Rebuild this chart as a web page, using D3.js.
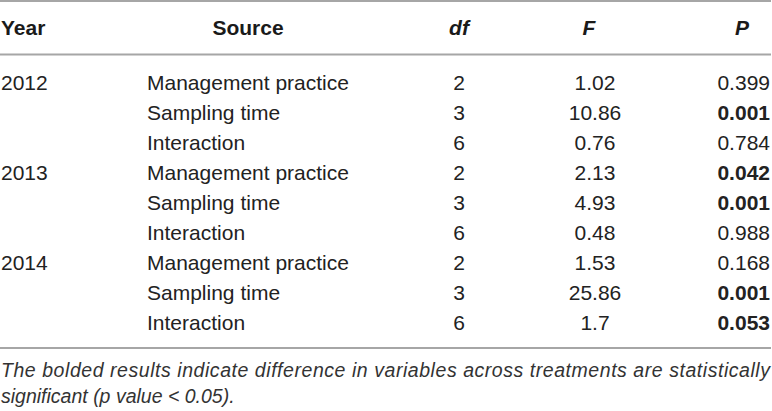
<!DOCTYPE html>
<html>
<head>
<meta charset="utf-8">
<title>ANOVA table</title>
<script src="https://cdn.jsdelivr.net/npm/d3@7/dist/d3.min.js"></script>
<style>
  body { margin: 0; background: #fff; }
  text { font-family: "Liberation Sans", Arial, Helvetica, sans-serif; }
</style>
</head>
<body>
<div id="table"></div>

<script type="text/javascript">
	// table contents
	var headers = ["Year", "Source", "df", "F", "P"];
	var years = ["2012", "", "", "2013", "", "", "2014", "", ""];
	var sources = ["Management practice", "Sampling time", "Interaction",
		"Management practice", "Sampling time", "Interaction",
		"Management practice", "Sampling time", "Interaction"];
	var dfs = ["2", "3", "6", "2", "3", "6", "2", "3", "6"];
	var fValues = ["1.02", "10.86", "0.76", "2.13", "4.93", "0.48", "1.53", "25.86", "1.7"];
	var pValues = ["0.399", "0.001", "0.784", "0.042", "0.001", "0.988", "0.168", "0.001", "0.053"];
	var pBold = [0, 1, 0, 1, 1, 0, 0, 1, 1];
	var notes = ["The bolded results indicate difference in variables across treatments are statistically",
		"significant (p value < 0.05)."];

	var width = 772, height = 411;
	var fontSize = 21;

	var svg = d3.select("div#table").append("svg")
		.attr("width", width)
		.attr("height", height);

	// rows are placed with a point scale
	var y = d3.scalePoint()
		.domain(d3.range(sources.length))
		.range([83, 323]);

	// column anchors
	var col = { year: 1, source: 147, sourceHead: 248, df: 459, f: 595, p: 770 };

	// rules
	var rules = [1, 54.5, 348];
	svg.selectAll("line.rule").data(rules).enter().append("line")
		.attr("class", "rule")
		.attr("x1", 0)
		.attr("x2", 771)
		.attr("y1", function(d) { return d; })
		.attr("y2", function(d) { return d; })
		.style("stroke", "#a6a6a6")
		.style("stroke-width", 2);

	// header row
	var headPos = [
		{ x: col.year, anchor: "start", italic: false },
		{ x: col.sourceHead, anchor: "middle", italic: false },
		{ x: col.df, anchor: "middle", italic: true },
		{ x: 589, anchor: "middle", italic: true },
		{ x: 742, anchor: "middle", italic: true }
	];
	svg.selectAll("text.head").data(headers).enter().append("text")
		.attr("class", "head")
		.attr("x", function(d, i) { return headPos[i].x; })
		.attr("y", 28)
		.attr("dy", "0.35em")
		.attr("text-anchor", function(d, i) { return headPos[i].anchor; })
		.style("font-size", fontSize + "px")
		.style("font-weight", "bold")
		.style("font-style", function(d, i) { return headPos[i].italic ? "italic" : "normal"; })
		.style("fill", "#1a1a1a")
		.text(function(d) { return d; });

	// body cells
	function column(cls, values, x, anchor, boldFlags) {
		svg.selectAll("text." + cls).data(values).enter().append("text")
			.attr("class", cls)
			.attr("x", x)
			.attr("y", function(d, i) { return y(i); })
			.attr("dy", "0.35em")
			.attr("text-anchor", anchor)
			.style("font-size", fontSize + "px")
			.style("font-weight", function(d, i) { return boldFlags && boldFlags[i] ? "bold" : "normal"; })
			.style("fill", "#222")
			.text(function(d) { return d; });
	}
	column("year", years, col.year, "start");
	column("source", sources, col.source, "start");
	column("df", dfs, col.df, "middle");
	column("f", fValues, col.f, "middle");
	column("p", pValues, col.p, "end", pBold);

	// footnote, first line justified
	svg.selectAll("text.note").data(notes).enter().append("text")
		.attr("class", "note")
		.attr("x", 1)
		.attr("y", function(d, i) { return 370 + i * 26; })
		.attr("dy", "0.35em")
		.attr("textLength", function(d, i) { return i === 0 ? 769 : null; })
		.attr("lengthAdjust", "spacing")
		.style("font-size", "19.5px")
		.style("font-style", "italic")
		.style("fill", "#333")
		.text(function(d) { return d; });
</script>
</body>
</html>
